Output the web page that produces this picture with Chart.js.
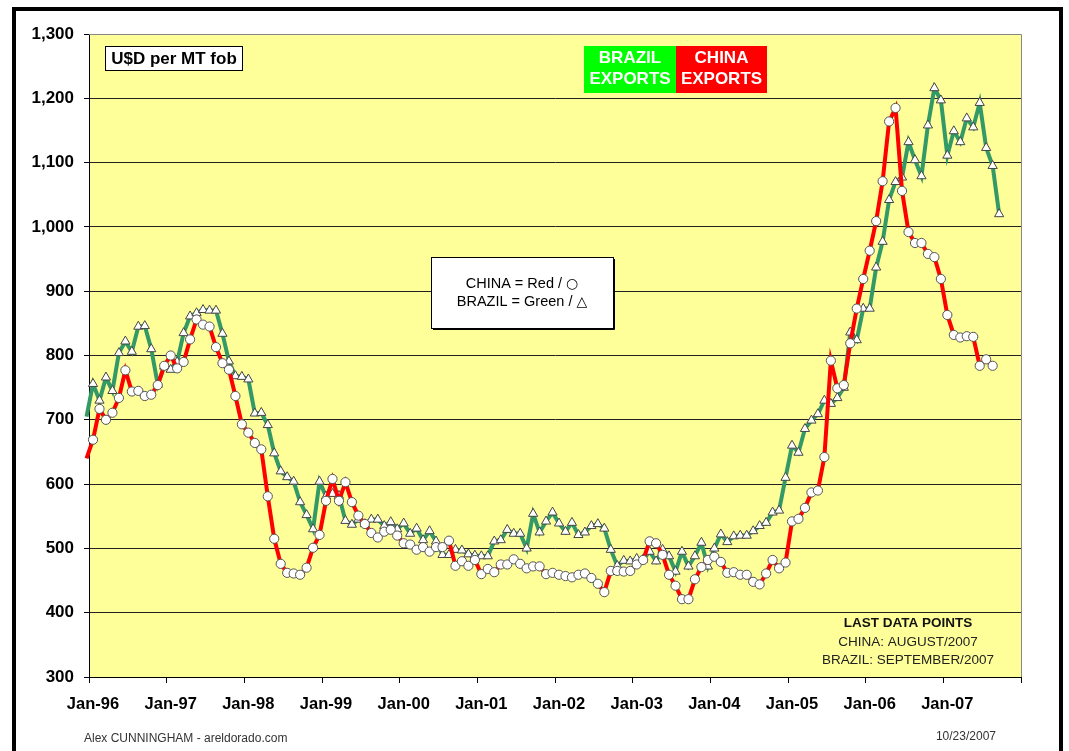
<!DOCTYPE html>
<html>
<head>
<meta charset="utf-8">
<script src="https://cdn.jsdelivr.net/npm/chart.js@4.4.0/dist/chart.umd.min.js"></script>
<style>
  html, body { margin: 0; padding: 0; background: #fff; }
  canvas { display: block; }
</style>
</head>
<body>
<canvas id="chart" width="1069" height="751"></canvas>
<script>
// Monthly prices, U$D per MT fob. Index 0 = Dec-95 (month -1), then Jan-96 ...
const firstMonth = -1;

// China: Dec-95 .. Aug-07
const chinaPrices = [
  640,
  669, 717, 700, 711, 734, 777, 744, 745, 737, 739, 754, 784,   // 1996
  800, 780, 790, 825, 856, 848, 845, 813, 788, 778, 737, 693,   // 1997
  680, 664, 654, 581, 515, 476, 462, 461, 459, 470, 501, 521,   // 1998
  574, 608, 574, 603, 572, 551, 538, 524, 517, 526, 529, 520,   // 1999
  508, 506, 498, 502, 495, 502, 502, 512, 473, 480, 473, 482,   // 2000
  460, 468, 463, 475, 475, 483, 476, 469, 472, 472, 460, 462,   // 2001
  459, 457, 455, 459, 461, 454, 445, 432, 465, 465, 464, 465,   // 2002
  475, 482, 511, 508, 490, 459, 442, 421, 421, 452, 471, 482,   // 2003
  487, 479, 462, 463, 459, 459, 448, 444, 461, 482, 469, 478,   // 2004
  542, 546, 563, 587, 590, 642, 792, 749, 754, 819, 873, 919,   // 2005
  963, 1009, 1071, 1164, 1185, 1056, 992, 975, 975, 958, 953, 919, // 2006
  863, 832, 828, 830, 829, 784, 794, 784                        // 2007
];

// Brazil: Dec-95 .. Sep-07
const brazilPrices = [
  705,
  756, 730, 766, 745, 804, 822, 806, 845, 846, 810, 755, 783,   // 1996
  778, 790, 835, 861, 866, 871, 870, 870, 834, 791, 768, 767,   // 1997
  763, 710, 711, 692, 648, 620, 611, 604, 572, 552, 530, 604,   // 1998
  581, 585, 582, 543, 537, 545, 538, 545, 545, 535, 541, 530,   // 1999
  539, 523, 531, 513, 527, 511, 490, 490, 498, 497, 491, 489,   // 2000
  488, 488, 511, 513, 529, 523, 523, 500, 554, 525, 542, 556,   // 2001
  539, 526, 540, 521, 525, 535, 538, 531, 498, 473, 481, 480,   // 2002
  484, 483, 495, 480, 498, 488, 464, 495, 472, 488, 509, 472,   // 2003
  500, 522, 510, 519, 520, 520, 527, 535, 540, 556, 559, 610,   // 2004
  660, 649, 686, 699, 709, 730, 725, 734, 750, 836, 824, 873,   // 2005
  873, 937, 977, 1042, 1070, 1077, 1132, 1104, 1079, 1158, 1216, 1197, // 2006
  1111, 1149, 1132, 1169, 1155, 1193, 1123, 1095, 1020          // 2007
];

const xTickLabels = ['Jan-96', 'Jan-97', 'Jan-98', 'Jan-99', 'Jan-00', 'Jan-01',
  'Jan-02', 'Jan-03', 'Jan-04', 'Jan-05', 'Jan-06', 'Jan-07', ''];

// x axis runs in months from Jan-96; ticks sit between Dec and Jan
const axisStart = -0.62;
const axisEnd = axisStart + 144;

const FONT = "'Liberation Sans', Arial, 'DejaVu Sans', sans-serif";

function toPoints(values) {
  return values.map((v, i) => ({ x: firstMonth + i, y: v }));
}

// text line with a symbol drawn in a font that has a full size glyph
function textWithSymbol(ctx, text, symbol, cx, y) {
  ctx.font = '14.5px ' + FONT;
  const w1 = ctx.measureText(text).width;
  ctx.font = '14px "DejaVu Sans"';
  const w2 = ctx.measureText(symbol).width;
  const left = cx - (w1 + w2) / 2;
  ctx.textAlign = 'left';
  ctx.font = '14.5px ' + FONT;
  ctx.fillText(text, left, y);
  ctx.font = '14px "DejaVu Sans"';
  ctx.fillText(symbol, left + w1, y);
  ctx.textAlign = 'center';
}

// frame, plot background and the text boxes
const decorations = {
  id: 'decorations',
  beforeDraw(chart) {
    const { ctx, chartArea: a } = chart;
    ctx.save();
    ctx.fillStyle = '#ffff99';
    ctx.fillRect(a.left, a.top, a.right - a.left, a.bottom - a.top);
    ctx.restore();
  },
  afterDraw(chart) {
    const { ctx, chartArea: a } = chart;
    ctx.save();

    // plot border top / right
    ctx.strokeStyle = '#888';
    ctx.lineWidth = 1;
    ctx.beginPath();
    ctx.moveTo(a.left, a.top + 0.5);
    ctx.lineTo(a.right + 0.5, a.top + 0.5);
    ctx.lineTo(a.right + 0.5, a.bottom);
    ctx.stroke();

    // outer black frame
    ctx.fillStyle = '#000';
    ctx.fillRect(12, 7, 4, 744);
    ctx.fillRect(12, 7, 1051, 4);
    ctx.fillRect(1059, 7, 4, 744);

    ctx.textBaseline = 'middle';

    // U$D per MT fob
    ctx.fillStyle = '#fff';
    ctx.fillRect(105, 46, 137, 24);
    ctx.strokeStyle = '#000';
    ctx.strokeRect(105.5, 46.5, 137, 24);
    ctx.fillStyle = '#000';
    ctx.font = 'bold 17px ' + FONT;
    ctx.textAlign = 'center';
    ctx.fillText('U$D per MT fob', 174, 59);

    // BRAZIL / CHINA exports boxes
    ctx.fillStyle = '#00ff00';
    ctx.fillRect(584, 46, 92, 47);
    ctx.fillStyle = '#ff0000';
    ctx.fillRect(676, 46, 91, 47);
    ctx.fillStyle = '#fff';
    ctx.fillText('BRAZIL', 630, 58);
    ctx.fillText('EXPORTS', 630, 79);
    ctx.fillText('CHINA', 721.5, 58);
    ctx.fillText('EXPORTS', 721.5, 79);

    // legend box in the middle
    ctx.fillStyle = '#fff';
    ctx.fillRect(431, 257, 182, 71);
    ctx.strokeStyle = '#000';
    ctx.strokeRect(431.5, 257.5, 182, 71);
    ctx.beginPath();
    ctx.moveTo(614.5, 259);
    ctx.lineTo(614.5, 329.5);
    ctx.lineTo(433, 329.5);
    ctx.stroke();
    ctx.fillStyle = '#000';
    textWithSymbol(ctx, 'CHINA = Red / ', '\u25CB', 522, 284);
    textWithSymbol(ctx, 'BRAZIL = Green / ', '\u25B3', 522, 302);

    // last data points note
    ctx.fillStyle = '#111';
    ctx.font = 'bold 13.5px ' + FONT;
    ctx.fillText('LAST DATA POINTS', 908, 623);
    ctx.fillStyle = '#222';
    ctx.font = '13.5px ' + FONT;
    ctx.fillText('CHINA: AUGUST/2007', 908, 642);
    ctx.fillText('BRAZIL: SEPTEMBER/2007', 908, 660);

    // footer
    ctx.fillStyle = '#333';
    ctx.font = '12px ' + FONT;
    ctx.textAlign = 'left';
    ctx.fillText('Alex CUNNINGHAM - areldorado.com', 84, 739);
    ctx.textAlign = 'right';
    ctx.fillText('10/23/2007', 996, 737);

    ctx.restore();
  }
};

const ctx = document.getElementById('chart').getContext('2d');
new Chart(ctx, {
  type: 'line',
  data: {
    datasets: [
      {
        label: 'China',
        data: toPoints(chinaPrices),
        borderColor: '#ff0000',
        borderWidth: 4,
        tension: 0,
        pointStyle: 'circle',
        pointRadius: c => (c.dataIndex === 0 ? 0 : 4.6),
        pointBackgroundColor: '#fff',
        pointBorderColor: '#555',
        pointBorderWidth: 1,
        clip: { left: 5, top: 0, right: 0, bottom: 0 }
      },
      {
        label: 'Brazil',
        data: toPoints(brazilPrices),
        borderColor: '#339966',
        borderWidth: 4,
        tension: 0,
        pointStyle: 'triangle',
        pointRadius: c => (c.dataIndex === 0 ? 0 : 5.3),
        pointBackgroundColor: '#fff',
        pointBorderColor: '#444',
        pointBorderWidth: 1,
        clip: { left: 5, top: 0, right: 0, bottom: 0 }
      }
    ]
  },
  options: {
    responsive: false,
    animation: false,
    layout: { padding: { left: 0, top: 34, right: 48, bottom: 0 } },
    plugins: {
      legend: { display: false },
      tooltip: { enabled: false }
    },
    scales: {
      x: {
        type: 'linear',
        min: axisStart,
        max: axisEnd,
        afterBuildTicks: axis => {
          axis.ticks = xTickLabels.map((l, k) => ({ value: axisStart + 12 * k }));
        },
        afterFit: scale => { scale.height = 74; },
        grid: { drawOnChartArea: false, tickLength: 6, color: '#000' },
        border: { color: '#000', width: 1 },
        ticks: {
          autoSkip: false,
          maxRotation: 0,
          labelOffset: 4,
          padding: 12,
          color: '#000',
          font: { family: FONT, size: 16.5, weight: 'bold' },
          callback: v => xTickLabels[Math.round((v - axisStart) / 12)]
        }
      },
      y: {
        min: 300,
        max: 1300,
        afterFit: scale => { scale.width = 89; },
        grid: {
          tickLength: 5,
          color: c => (c.tick && c.tick.value === 1300 ? '#999' : '#222'),
          tickColor: '#000'
        },
        border: { color: '#000', width: 1 },
        ticks: {
          stepSize: 100,
          padding: 10,
          color: '#000',
          font: { family: FONT, size: 17, weight: 'bold' },
          callback: v => v.toLocaleString('en-US')
        }
      }
    }
  },
  plugins: [decorations]
});
</script>
</body>
</html>
